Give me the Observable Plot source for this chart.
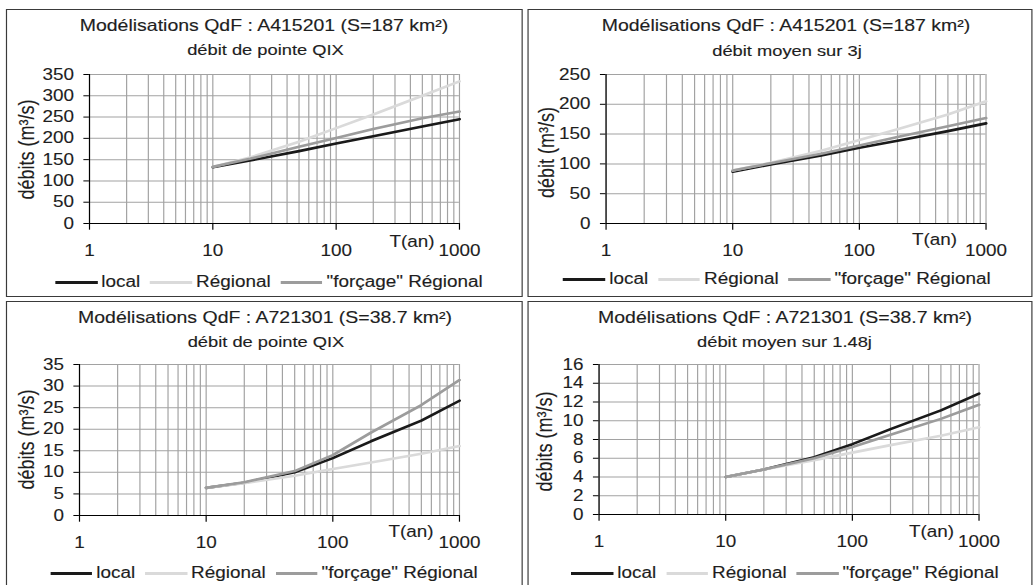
<!DOCTYPE html>
<html>
<head>
<meta charset="utf-8">
<script src="https://cdn.jsdelivr.net/npm/d3@7"></script>
<script src="https://cdn.jsdelivr.net/npm/@observablehq/plot@0.6"></script>
<style>
html, body { margin: 0; padding: 0; background: #fff; }
body { width: 1034px; height: 585px; overflow: hidden; position: relative;
       font-family: "Liberation Sans", Arial, sans-serif; color: #1e1e1e; }
#stage { position: absolute; left: 0; top: 0; height: 600px; transform-origin: 0 0; }
.panel { position: absolute; border: 1.5px solid #3a3a3a; box-sizing: border-box; }
.txt { position: absolute; white-space: nowrap; transform: translate(-50%, -50%); line-height: 1;
       -webkit-text-stroke: 0.15px #1e1e1e; }
.legend { position: absolute; display: flex; align-items: center; white-space: nowrap;
          transform: translate(-50%, -50%); font-size: 16px; line-height: 1;
          -webkit-text-stroke: 0.15px #1e1e1e; }
.sw { display: inline-block; height: 3px; }
svg { position: absolute; }
svg text { stroke: #1e1e1e; stroke-width: 0.12px; }
</style>
</head>
<body>
<div id="stage"></div>
<script>
// ---------- data ----------
const T = [10, 20, 50, 100, 200, 500, 1000];           // return periods (years)
const xTicks = [1, 10, 100, 1000];
const seriesNames = ["local", "Régional", "\"forçage\" Régional"];
const seriesColors = ["#1a1a1a", "#dadada", "#9c9c9c"];

const titles = [
  "Modélisations QdF : A415201 (S=187 km²)",
  "Modélisations QdF : A415201 (S=187 km²)",
  "Modélisations QdF : A721301 (S=38.7 km²)",
  "Modélisations QdF : A721301 (S=38.7 km²)"
];
const subtitles = ["débit de pointe QIX", "débit moyen sur 3j", "débit de pointe QIX", "débit moyen sur 1.48j"];
const yLabels = ["débits (m³/s)", "débit (m³/s)", "débits (m³/s)", "débits (m³/s)"];
const xLabel = "T(an)";

const yTicksA = [0, 50, 100, 150, 200, 250, 300, 350];
const yTicksB = [0, 50, 100, 150, 200, 250];
const yTicksC = [0, 5, 10, 15, 20, 25, 30, 35];
const yTicksD = [0, 2, 4, 6, 8, 10, 12, 14, 16];

const qixA_local    = [132, 148, 170, 188, 205, 228, 245];
const qixA_regional = [133, 155, 192, 224, 256, 300, 334];
const qixA_forcage  = [133, 152, 180, 201, 222, 247, 263];

const q3jA_local    = [87, 99, 114, 127, 139, 155, 168];
const q3jA_regional = [89, 102, 122, 140, 158, 183, 205];
const q3jA_forcage  = [89, 101, 117, 131, 145, 163, 177];

const qixB_local    = [6.4, 7.6, 10.0, 13.3, 17.2, 22.0, 26.6];
const qixB_regional = [6.4, 7.5, 9.2, 10.8, 12.3, 14.3, 16.1];
const qixB_forcage  = [6.4, 7.7, 10.3, 14.0, 19.2, 25.6, 31.4];

const q148B_local    = [4.0, 4.8, 6.1, 7.5, 9.1, 11.1, 12.9];
const q148B_regional = [4.0, 4.8, 5.8, 6.6, 7.4, 8.4, 9.3];
const q148B_forcage  = [4.0, 4.8, 6.0, 7.2, 8.5, 10.2, 11.7];

const panelSeries = [
  [qixA_local, qixA_regional, qixA_forcage],
  [q3jA_local, q3jA_regional, q3jA_forcage],
  [qixB_local, qixB_regional, qixB_forcage],
  [q148B_local, q148B_regional, q148B_forcage]
];
const panelYTicks = [yTicksA, yTicksB, yTicksC, yTicksD];

// ---------- layout (page pixels) ----------
const S = 1.18; // horizontal stretch of the original picture
const layouts = [
  {L: 6,   Tp: 9,   R: 523,  B: 297, tx: 264, ty: 25,  sx: 265.5, sy: 50,  pl: 89,  pr: 459, pt: 74,  pb: 223, ylx: 27,  yly: 149, tanR: 434, tanY: 247, lgx: 269, lgy: 282},
  {L: 528, Tp: 9,   R: 1033, B: 297, tx: 786, ty: 25,  sx: 787,   sy: 51,  pl: 606, pr: 986, pt: 74,  pb: 223, ylx: 547, yly: 152, tanR: 957, tanY: 245, lgx: 777, lgy: 279},
  {L: 6,   Tp: 301, R: 523,  B: 600, tx: 265, ty: 317, sx: 266,   sy: 342, pl: 79,  pr: 459, pt: 364, pb: 515, ylx: 27,  yly: 439, tanR: 433, tanY: 537, lgx: 264, lgy: 573},
  {L: 528, Tp: 301, R: 1033, B: 600, tx: 785, ty: 317, sx: 784.5, sy: 342, pl: 599, pr: 979, pt: 364, pb: 514, ylx: 545, yly: 441, tanR: 954, tanY: 537, lgx: 785, lgy: 573}
];

const stage = document.getElementById("stage");
stage.style.width = (1034 / S) + "px";
stage.style.transform = `scaleX(${S})`;

// minor log grid positions
const gridXVals = [];
for (const dec of [1, 10, 100]) for (let k = 1; k <= 9; k++) gridXVals.push(k * dec);
gridXVals.push(1000);

const FONT = "'Liberation Sans', Arial, sans-serif";

layouts.forEach((lay, p) => {
  const panel = document.createElement("div");
  panel.className = "panel";
  panel.style.left = (lay.L / S) + "px";
  panel.style.top = lay.Tp + "px";
  panel.style.width = ((lay.R - lay.L) / S) + "px";
  panel.style.height = (lay.B - lay.Tp) + "px";
  stage.appendChild(panel);

  const title = document.createElement("div");
  title.className = "txt";
  title.style.fontSize = "16.5px";
  title.style.left = (lay.tx / S) + "px";
  title.style.top = lay.ty + "px";
  title.textContent = titles[p];
  stage.appendChild(title);

  const sub = document.createElement("div");
  sub.className = "txt";
  sub.style.fontSize = "15.5px";
  sub.style.left = (lay.sx / S) + "px";
  sub.style.top = lay.sy + "px";
  sub.textContent = subtitles[p];
  stage.appendChild(sub);

  const data = [];
  panelSeries[p].forEach((vals, s) => {
    T.forEach((t, i) => data.push({T: t, Q: vals[i], serie: seriesNames[s]}));
  });

  const mTop = 12, mBottom = 45;
  const width = (lay.R - lay.L) / S;
  const height = (lay.pb - lay.pt) + mTop + mBottom;
  const yt = panelYTicks[p];

  const chart = Plot.plot({
    width, height,
    marginLeft: (lay.pl - lay.L) / S,
    marginRight: (lay.R - lay.pr) / S,
    marginTop: mTop,
    marginBottom: mBottom,
    style: {fontFamily: FONT, fontSize: "16px", color: "#1e1e1e", background: "transparent", overflow: "visible"},
    x: {type: "log", domain: [1, 1000]},
    y: {domain: [yt[0], yt[yt.length - 1]]},
    color: {domain: seriesNames, range: seriesColors},
    marks: [
      Plot.gridX(gridXVals, {stroke: "#a2a2a2", strokeOpacity: 1, strokeWidth: 1}),
      Plot.gridY(yt, {stroke: "#a2a2a2", strokeOpacity: 1, strokeWidth: 1}),
      Plot.axisX(xTicks, {tickSize: 6.7, tickPadding: 14.2, tickFormat: d => String(d), stroke: "#000", label: null}),
      Plot.axisY(yt, {tickSize: 4.7, tickPadding: 8.5, tickFormat: d => String(d), stroke: "#000", label: null}),
      Plot.ruleX([1], {stroke: "#000", strokeWidth: 1}),
      Plot.ruleY([yt[0]], {stroke: "#000", strokeWidth: 1.2}),
      Plot.line(data, {x: "T", y: "Q", z: "serie", stroke: "serie", strokeWidth: 2.6}),
      Plot.text([xLabel], {text: d => d, frameAnchor: "bottom-right", textAnchor: "end",
        dx: (lay.tanR - lay.pr) / S, dy: lay.tanY - lay.pb, fontSize: 16, fill: "#1e1e1e"}),
      Plot.text([yLabels[p]], {text: d => d, frameAnchor: "left", rotate: -90, textAnchor: "middle",
        dx: -(lay.pl - lay.ylx) / S, dy: lay.yly - (lay.pt + lay.pb) / 2, fontSize: 18, fill: "#1e1e1e"})
    ]
  });
  chart.style.left = (lay.L / S) + "px";
  chart.style.top = (lay.pt - mTop) + "px";
  stage.appendChild(chart);

  const lg = document.createElement("div");
  lg.className = "legend";
  lg.style.left = (lay.lgx / S) + "px";
  lg.style.top = lay.lgy + "px";
  seriesNames.forEach((name, s) => {
    const sw = document.createElement("span");
    sw.className = "sw";
    sw.style.width = (42 / S) + "px";
    sw.style.background = seriesColors[s];
    sw.style.marginRight = (4 / S) + "px";
    lg.appendChild(sw);
    const tx = document.createElement("span");
    tx.textContent = name;
    if (s < seriesNames.length - 1) tx.style.marginRight = (10 / S) + "px";
    lg.appendChild(tx);
  });
  stage.appendChild(lg);
});
</script>
</body>
</html>
